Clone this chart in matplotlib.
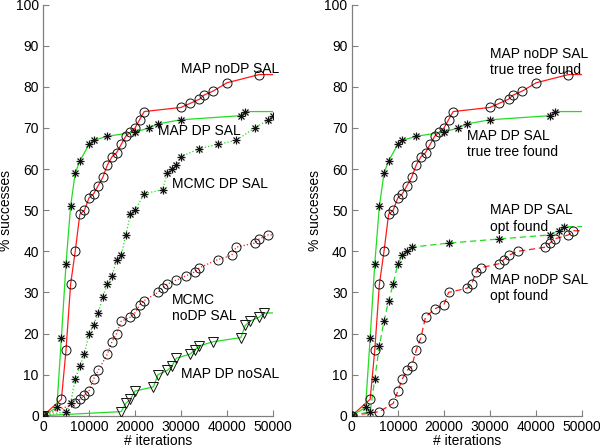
import matplotlib
matplotlib.use('Agg')
import matplotlib.pyplot as plt

plt.rcParams['font.family'] = ['Liberation Sans', 'DejaVu Sans']

X_END = 50000
RED = '#ff1a1a'
GREEN = '#22dd22'

# MAP noDP SAL (true tree found), same in both panels
map_nodp_x = [0, 4000, 5000, 6000, 7000, 8000, 9000, 10000, 11000, 12000, 13000, 14000,
              15000, 16000, 17000, 18000, 19000, 20000, 21000, 22000, 30000, 32000,
              34000, 35000, 37000, 40000, 47000]
map_nodp_y = [0, 4, 16, 32, 40, 49, 50, 53, 54, 56, 58, 61, 63, 64, 66, 68, 69, 70,
              72, 74, 75, 76, 77, 78, 79, 81, 83]

# MAP DP SAL (true tree found), same in both panels
map_dp_x = [0, 3000, 4000, 5000, 6000, 7000, 8000, 10000, 11000, 14000, 20000, 23000,
            25000, 30000, 43000, 44000]
map_dp_y = [0, 2, 19, 37, 51, 59, 62, 66, 67, 68, 69, 70, 71, 72, 73, 74]

# MCMC DP SAL
mcmc_dp_x = [0, 5000, 6000, 7000, 8000, 9000, 10000, 11000, 12000, 13000, 14000, 15000,
             16000, 17000, 18000, 19000, 20000, 22000, 26000, 27000, 28000, 29000,
             30000, 34000, 38000, 42000, 46000, 49000, 50000]
mcmc_dp_y = [0, 1, 3, 9, 12, 15, 20, 22, 25, 29, 32, 34, 38, 39, 44, 49, 50, 54, 55,
             59, 60, 61, 63, 65, 66, 67, 70, 72, 73]

# MCMC noDP SAL
mcmc_nodp_x = [0, 7000, 8000, 9000, 10000, 11000, 12000, 14000, 15000, 16000, 17000,
               19000, 20000, 21000, 22000, 25000, 26000, 27000, 29000, 31000, 33000,
               34000, 38000, 41000, 42000, 46000, 47000, 49000]
mcmc_nodp_y = [0, 3, 4, 5, 6, 9, 11, 15, 18, 20, 23, 24, 25, 27, 28, 30, 31, 32, 33,
               34, 35, 36, 38, 39, 41, 42, 43, 44]

# MAP DP noSAL
map_dp_nosal_x = [0, 17000, 18000, 19000, 20000, 24000, 25000, 27000, 28000, 29000,
                  32000, 33000, 34000, 37000, 43000, 44000, 45000, 47000, 48000]
map_dp_nosal_y = [0, 1, 3, 4, 6, 7, 10, 11, 12, 14, 15, 16, 17, 18, 19, 22, 23, 24, 25]

# MAP DP SAL (opt found)
opt_dp_x = [0, 4000, 5000, 6000, 7000, 8000, 9000, 10000, 11000, 12000, 13000, 21000,
            32000, 43000, 45000, 46000]
opt_dp_y = [0, 1, 9, 17, 23, 28, 32, 37, 39, 40, 41, 42, 43, 44, 45, 46]

# MAP noDP SAL (opt found)
opt_nodp_x = [0, 6000, 9000, 10000, 11000, 12000, 13000, 14000, 15000, 16000, 18000,
              20000, 21000, 25000, 26000, 27000, 28000, 32000, 33000, 34000, 36000,
              42000, 43000, 44000, 47000, 48000]
opt_nodp_y = [0, 1, 3, 6, 9, 11, 12, 16, 19, 24, 26, 27, 30, 31, 32, 35, 36, 37, 38,
              39, 40, 41, 42, 43, 44, 45]


def curve(ax, x, y, color, ls, marker):
    # line runs on to the end of the x range at the last value
    ax.plot(list(x) + [X_END], list(y) + [y[-1]], color=color, ls=ls, lw=0.9, zorder=2)
    if marker == '*':
        # matlab style asterisk: plus + cross
        ax.plot(x, y, ls='none', marker='+', ms=6, mec='#111111', mew=0.9, zorder=3)
        ax.plot(x, y, ls='none', marker='x', ms=4.5, mec='#111111', mew=0.9, zorder=3)
    else:
        ax.plot(x, y, ls='none', marker=marker, ms=6.5, mfc='none', mec='#111111',
                mew=0.7, zorder=3)


def style(ax):
    ax.set_xlim(0, 50000)
    ax.set_ylim(0, 100)
    ax.set_xticks(range(0, 50001, 10000))
    ax.set_yticks(range(0, 101, 10))
    for s in ['top', 'right']:
        ax.spines[s].set_visible(False)
    for s in ['left', 'bottom']:
        ax.spines[s].set_color('#808080')
        ax.spines[s].set_linewidth(0.9)
    ax.tick_params(direction='in', length=4, color='#808080', labelsize=10, pad=3)
    ax.set_xlabel('# iterations', fontsize=10, labelpad=0)
    ax.set_ylabel('% successes', fontsize=10, labelpad=2)


fig = plt.figure(figsize=(6, 4.47), dpi=100)
ax1 = fig.add_axes([0.0717, 0.070, 0.3833, 0.9195])
ax2 = fig.add_axes([0.5862, 0.070, 0.3843, 0.9195])

# left panel
curve(ax1, mcmc_nodp_x, mcmc_nodp_y, RED, ':', 'o')
curve(ax1, mcmc_dp_x, mcmc_dp_y, GREEN, ':', '*')
curve(ax1, map_dp_nosal_x, map_dp_nosal_y, GREEN, '-', 'v')
curve(ax1, map_nodp_x, map_nodp_y, RED, '-', 'o')
curve(ax1, map_dp_x, map_dp_y, GREEN, '-', '*')
style(ax1)
ax1.text(30000, 84.3, 'MAP noDP SAL', fontsize=10, va='center')
ax1.text(25000, 69.3, 'MAP DP SAL', fontsize=10, va='center')
ax1.text(28000, 56.3, 'MCMC DP SAL', fontsize=10, va='center')
ax1.text(28000, 26.2, 'MCMC\nnoDP SAL', fontsize=10, va='center')
ax1.text(30000, 10.2, 'MAP DP noSAL', fontsize=10, va='center')

# right panel
curve(ax2, opt_nodp_x, opt_nodp_y, RED, (0, (5, 3)), 'o')
curve(ax2, opt_dp_x, opt_dp_y, GREEN, (0, (5, 3)), '*')
curve(ax2, map_nodp_x, map_nodp_y, RED, '-', 'o')
curve(ax2, map_dp_x, map_dp_y, GREEN, '-', '*')
style(ax2)
ax2.text(30000, 86.1, 'MAP noDP SAL\ntrue tree found', fontsize=10, va='center')
ax2.text(25000, 66.1, 'MAP DP SAL\ntrue tree found', fontsize=10, va='center')
ax2.text(30000, 48.0, 'MAP DP SAL\nopt found', fontsize=10, va='center')
ax2.text(30000, 31.0, 'MAP noDP SAL\nopt found', fontsize=10, va='center')

fig.savefig('out.png', dpi=100)
